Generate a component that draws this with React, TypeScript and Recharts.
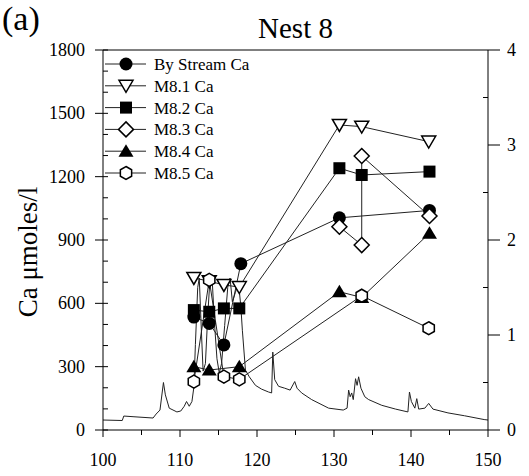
import React from "react";
import {
  ComposedChart,
  Line,
  XAxis,
  YAxis,
  Legend,
  ReferenceLine,
} from "recharts";

// sample dates (day of year) and Ca concentrations
const byStreamX = [111.8, 113.8, 115.7, 117.9, 130.7, 142.4];
const byStreamCa = [535, 505, 403, 788, 1005, 1040];

const m81X = [111.8, 113.8, 115.7, 117.7, 130.7, 133.6, 142.3];
const m81Ca = [720, 705, 687, 677, 1445, 1437, 1366];

const m82X = [111.8, 113.8, 115.7, 117.7, 130.7, 133.6, 142.4];
const m82Ca = [568, 560, 576, 576, 1240, 1208, 1224];

const m83X = [130.7, 133.6, 133.6, 142.4];
const m83Ca = [963, 876, 1298, 1014];

const m84X = [111.8, 113.8, 117.7, 130.7, 133.6, 142.4];
const m84Ca = [300, 284, 300, 655, 628, 932];

const m85X = [111.8, 113.8, 115.7, 117.7, 133.6, 142.3];
const m85Ca = [229, 711, 253, 240, 636, 482];

// stream flow trace (right axis)
const flowX = [
  100, 102.5, 102.7, 103.9, 106.5, 106.9, 107.4, 107.85, 108.1, 108.6, 109.6,
  110.1, 110.55, 110.85, 111.2, 111.55, 111.8, 112.0, 112.3, 112.5, 112.8,
  113.0, 113.3, 113.6, 113.9, 114.2, 114.5, 114.8, 115.1, 115.4, 115.8, 116.2,
  116.5, 116.8, 117.2, 117.6, 117.9, 118.1, 118.5, 119.0, 119.8, 120.6, 121.5,
  121.9, 122.05, 122.3, 122.8, 123.6, 124.3, 124.9, 125.2, 125.8, 127.1, 129.3,
  131.2, 131.7, 131.9, 132.1, 132.3, 132.5, 132.8, 133.0, 133.2, 133.5, 134.0,
  134.5, 136.2, 138.0, 139.6, 139.8, 140.05, 140.5, 140.75, 141.0, 141.8,
  142.3, 142.85, 144.8, 146.95, 149.5, 150,
];
const flowQ = [
  0.105, 0.1, 0.147, 0.14, 0.126, 0.168, 0.21, 0.5, 0.37, 0.23, 0.19, 0.2,
  0.25, 0.3, 0.25, 0.3, 0.45, 0.9, 1.5, 1.6, 1.0, 0.62, 0.7, 1.2, 1.6, 1.55,
  1.1, 0.75, 0.6, 0.7, 1.1, 1.5, 1.6, 1.35, 1.45, 1.55, 1.3, 1.05, 0.63, 0.56,
  0.47, 0.43, 0.4, 0.39, 0.82, 0.53, 0.46, 0.44, 0.42, 0.51, 0.44, 0.39, 0.32,
  0.23, 0.21, 0.23, 0.42, 0.35, 0.39, 0.32, 0.54, 0.47, 0.56, 0.44, 0.35, 0.32,
  0.26, 0.22, 0.19, 0.4, 0.3, 0.23, 0.33, 0.22, 0.23, 0.28, 0.22, 0.18, 0.15,
  0.11, 0.105,
];

const xTicks = [100, 105, 110, 115, 120, 125, 130, 135, 140, 145, 150];
const leftTicks = [
  0, 100, 200, 300, 400, 500, 600, 700, 800, 900, 1000, 1100, 1200, 1300, 1400,
  1500, 1600, 1700, 1800,
];
const rightTicks = [0, 0.5, 1, 1.5, 2, 2.5, 3, 3.5, 4];

const FONT = "'Liberation Serif', 'Times New Roman', serif";

type Shape = "circle" | "tri-down" | "square" | "diamond" | "tri-up" | "hexagon";

const Marker = ({ cx, cy, shape }: { cx: number; cy: number; shape: Shape }) => {
  if (cx == null || cy == null) return null;
  switch (shape) {
    case "circle":
      return <circle cx={cx} cy={cy} r={6.5} fill="#000" />;
    case "tri-down":
      return (
        <polygon
          points={`${cx - 7},${cy - 5.5} ${cx + 7},${cy - 5.5} ${cx},${cy + 6.5}`}
          fill="#fff"
          stroke="#000"
          strokeWidth={1.5}
        />
      );
    case "square":
      return <rect x={cx - 6} y={cy - 6} width={12} height={12} fill="#000" />;
    case "diamond":
      return (
        <polygon
          points={`${cx},${cy - 7.5} ${cx + 7.5},${cy} ${cx},${cy + 7.5} ${cx - 7.5},${cy}`}
          fill="#fff"
          stroke="#000"
          strokeWidth={1.5}
        />
      );
    case "tri-up":
      return (
        <polygon
          points={`${cx},${cy - 7} ${cx + 7.5},${cy + 5.5} ${cx - 7.5},${cy + 5.5}`}
          fill="#000"
        />
      );
    case "hexagon": {
      const pts = [0, 1, 2, 3, 4, 5]
        .map((i) => {
          const a = (Math.PI / 3) * i - Math.PI / 2;
          return `${cx + 6.5 * Math.cos(a)},${cy + 6.5 * Math.sin(a)}`;
        })
        .join(" ");
      return <polygon points={pts} fill="#fff" stroke="#000" strokeWidth={1.5} />;
    }
  }
  return null;
};

const dotOf = (shape: Shape) => (props: any) =>
  <Marker key={`${shape}-${props.index}`} cx={props.cx} cy={props.cy} shape={shape} />;

const toPoints = (xs: number[], ys: number[]) => xs.map((x, i) => ({ x, y: ys[i] }));

const series: { name: string; shape: Shape; data: { x: number; y: number }[] }[] = [
  { name: "By Stream Ca", shape: "circle", data: toPoints(byStreamX, byStreamCa) },
  { name: "M8.1 Ca", shape: "tri-down", data: toPoints(m81X, m81Ca) },
  { name: "M8.2 Ca", shape: "square", data: toPoints(m82X, m82Ca) },
  { name: "M8.3 Ca", shape: "diamond", data: toPoints(m83X, m83Ca) },
  { name: "M8.4 Ca", shape: "tri-up", data: toPoints(m84X, m84Ca) },
  { name: "M8.5 Ca", shape: "hexagon", data: toPoints(m85X, m85Ca) },
];

const flowData = toPoints(flowX, flowQ);

const XTick = ({ x, y, payload }: any) => {
  const major = payload.value % 10 === 0;
  return (
    <g>
      <line x1={x} y1={y} x2={x} y2={y + (major ? 7 : 5)} stroke="#000" />
      {major && (
        <text x={x} y={y + 36} textAnchor="middle" fontSize={18} fontFamily={FONT} fill="#000">
          {payload.value}
        </text>
      )}
    </g>
  );
};

const LeftTick = ({ x, y, payload }: any) => {
  const major = payload.value % 300 === 0;
  return (
    <g>
      {major ? (
        <line x1={x - 8} y1={y} x2={x + 5} y2={y} stroke="#000" />
      ) : (
        <line x1={x} y1={y} x2={x + 5} y2={y} stroke="#000" />
      )}
      {major && (
        <text x={x - 18} y={y + 6} textAnchor="end" fontSize={18} fontFamily={FONT} fill="#000">
          {payload.value}
        </text>
      )}
    </g>
  );
};

const RightTick = ({ x, y, payload }: any) => {
  const major = Number.isInteger(payload.value);
  return (
    <g>
      {major ? (
        <line x1={x} y1={y} x2={x + 12} y2={y} stroke="#000" />
      ) : (
        <line x1={x - 5} y1={y} x2={x} y2={y} stroke="#000" />
      )}
      {major && (
        <text x={x + 19} y={y + 6} textAnchor="start" fontSize={18} fontFamily={FONT} fill="#000">
          {payload.value}
        </text>
      )}
    </g>
  );
};

const LegendBox = () => (
  <svg width={170} height={135}>
    {series.map((s, i) => {
      const cy = 11 + i * 21.8;
      return (
        <g key={s.name}>
          <line x1={4} y1={cy} x2={45} y2={cy} stroke="#222" />
          <Marker cx={25} cy={cy} shape={s.shape} />
          <text x={53} y={cy + 6} fontSize={17} fontFamily={FONT} fill="#000">
            {s.name}
          </text>
        </g>
      );
    })}
  </svg>
);

export default function App() {
  return (
    <div style={{ position: "absolute", left: 0, top: 0, width: 529, height: 476, background: "#fff" }}>
      <div
        style={{
          position: "absolute",
          left: 2,
          top: 0,
          lineHeight: "38px",
          fontFamily: FONT,
          fontSize: 34,
          color: "#000",
        }}
      >
        (a)
      </div>
      <div
        style={{
          position: "absolute",
          left: 103,
          width: 385,
          top: 12,
          lineHeight: "32px",
          textAlign: "center",
          fontFamily: FONT,
          fontSize: 29,
          color: "#000",
        }}
      >
        Nest 8
      </div>
      <ComposedChart width={529} height={476} margin={{ top: 50, right: 0, bottom: 16, left: 43 }}>
        <XAxis
          type="number"
          dataKey="x"
          domain={[100, 150]}
          ticks={xTicks}
          interval={0}
          allowDataOverflow
          height={30}
          tickSize={0}
          tickMargin={0}
          tickLine={false}
          tick={<XTick />}
          axisLine={{ stroke: "#000" }}
        />
        <YAxis
          yAxisId="left"
          type="number"
          dataKey="y"
          domain={[0, 1800]}
          ticks={leftTicks}
          interval={0}
          width={60}
          tickSize={0}
          tickMargin={0}
          tickLine={false}
          tick={<LeftTick />}
          axisLine={{ stroke: "#000" }}
          label={() => (
            <text
              x={28}
              y={252}
              transform="rotate(-90, 28, 252)"
              textAnchor="middle"
              dominantBaseline="central"
              fontSize={27}
              fontFamily={FONT}
              fill="#000"
            >
              Ca μmoles/l
            </text>
          )}
        />
        <YAxis
          yAxisId="right"
          orientation="right"
          type="number"
          dataKey="y"
          domain={[0, 4]}
          ticks={rightTicks}
          interval={0}
          width={41}
          tickSize={0}
          tickMargin={0}
          tickLine={false}
          tick={<RightTick />}
          axisLine={{ stroke: "#000" }}
        />
        <ReferenceLine yAxisId="left" y={1800} stroke="#000" />
        <Line
          yAxisId="right"
          data={flowData}
          dataKey="y"
          type="linear"
          stroke="#222"
          strokeWidth={1}
          dot={false}
          isAnimationActive={false}
          legendType="none"
        />
        {series.map((s) => (
          <Line
            key={s.name}
            yAxisId="left"
            name={s.name}
            data={s.data}
            dataKey="y"
            type="linear"
            stroke="#222"
            strokeWidth={1}
            dot={dotOf(s.shape)}
            activeDot={false}
            isAnimationActive={false}
          />
        ))}
        <Legend
          layout="horizontal"
          verticalAlign="middle"
          align="center"
          wrapperStyle={{ left: 101, top: 53, width: 170, height: 135 }}
          content={() => <LegendBox />}
        />
      </ComposedChart>
    </div>
  );
}
